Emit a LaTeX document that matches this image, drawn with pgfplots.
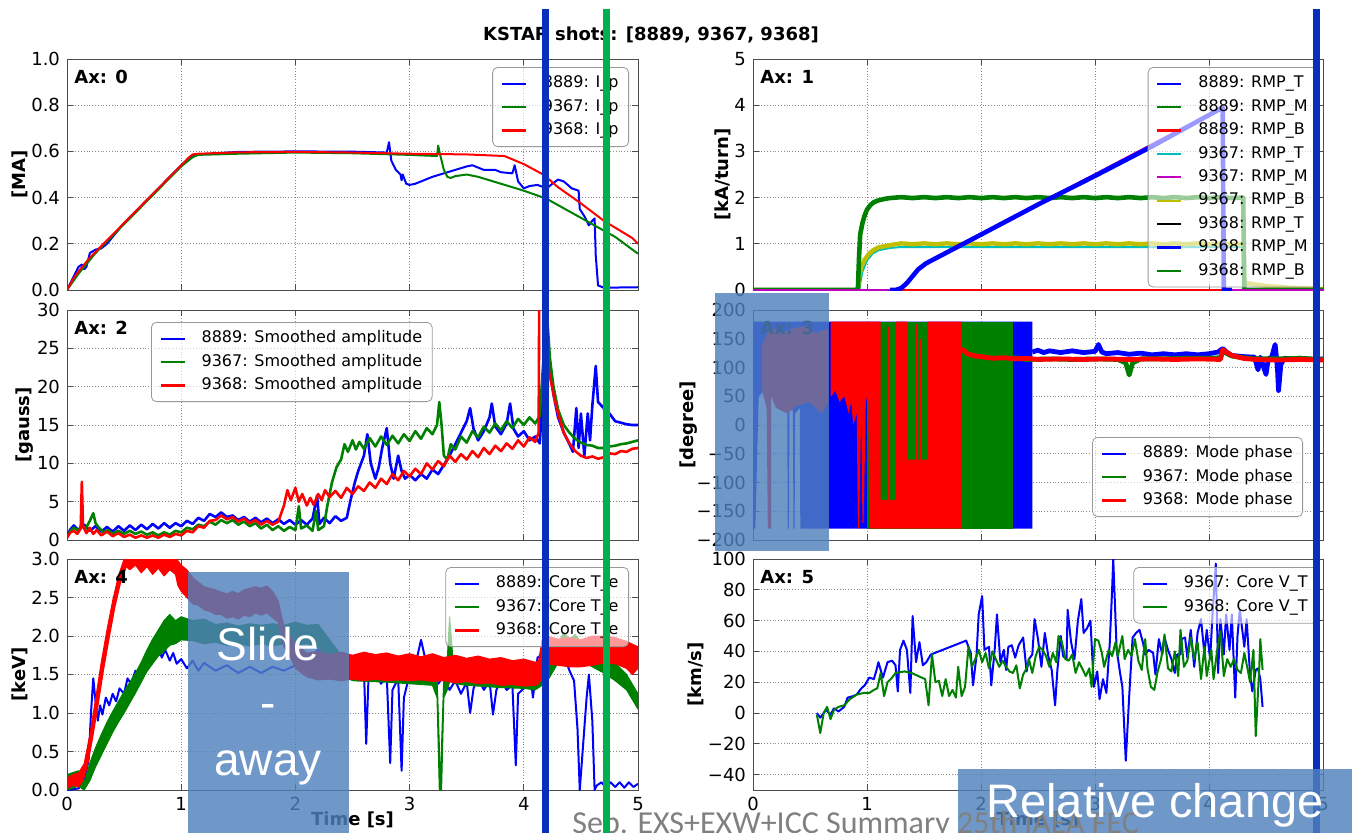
\documentclass[border=0pt]{standalone}
\usepackage{pgfplots}
\pgfplotsset{compat=1.18}
\usepackage{fontspec}
\setmainfont{DejaVu Sans}
\newfontfamily\footfont{Carlito}
\newfontfamily\boxfont{Liberation Sans}

\definecolor{mplblue}{rgb}{0,0,1}
\definecolor{mplgreen}{rgb}{0,0.5,0}
\definecolor{mplred}{rgb}{1,0,0}
\definecolor{mplcyan}{rgb}{0,0.75,0.75}
\definecolor{mplmagenta}{rgb}{0.75,0,0.75}
\definecolor{mplyellow}{rgb}{0.75,0.75,0}
\definecolor{markblue}{RGB}{8,48,190}
\definecolor{markgreen}{RGB}{0,176,80}
\definecolor{panelblue}{RGB}{79,129,189}
\definecolor{footgray}{RGB}{128,128,128}

\pgfplotsset{
  panel/.style={
    scale only axis, xmin=0, xmax=5, xtick={0,1,2,3,4,5},
    tick align=inside, tick pos=both, major tick length=3pt,
    axis line style={black!70}, tick style={black!70, line width=0.5pt},
    grid=major, major grid style={densely dotted, black!45, line width=0.5pt},
    tick label style={font=\fontsize{9}{10}\selectfont},
    /pgf/number format/assume math mode=true,
    xlabel style={font=\bfseries\fontsize{9}{10}\selectfont, yshift=6.5pt},
    ylabel style={font=\bfseries\fontsize{9}{10}\selectfont},
    ylabel shift=-5pt,
    legend cell align=left,
    legend style={font=\fontsize{8}{9}\selectfont, draw=black!40, fill=white,
      fill opacity=0.6, draw opacity=1, text opacity=1, rounded corners=2.5pt,
      inner xsep=4pt, inner ysep=3pt, row sep=1.5pt,
      nodes={inner sep=1pt, text height=6.2pt, text depth=2pt},
      /tikz/every odd column/.append style={column sep=7pt}},
    legend image code/.code={\draw[#1, line width=1.1pt] (0pt,0pt) -- (12pt,0pt);},
    every axis plot/.append style={line width=1pt, line join=round},
  },
  leftcol/.style={panel, at={(33.5pt,#1)}, anchor=south west, width=285.5pt},
  rightcol/.style={panel, at={(376.5pt,#1)}, anchor=south west, width=285pt},
  hidex/.style={xticklabels={}},
  onedec/.style={yticklabel style={/pgf/number format/.cd, fixed, fixed zerofill, precision=1}},
}
\newcommand\axlabel[1]{\node[anchor=north west, inner sep=0pt, font=\bfseries\fontsize{9}{10}\selectfont]
  at ([xshift=3.5pt,yshift=-5.5pt]rel axis cs:0,1) {Ax: #1};}

\begin{document}
\begin{tikzpicture}[x=0.5pt,y=-0.5pt]
\useasboundingbox (0,0) rectangle (1371,832);
\clip (0,0) rectangle (1371,832);

\node[font=\bfseries\fontsize{9}{10}\selectfont, anchor=base] at (651,40) {KSTAR shots: [8889, 9367, 9368]};

% ---------------- Ax 0: plasma current
\begin{axis}[leftcol=-145pt, height=115.5pt, ymin=0, ymax=1, ytick={0,0.2,0.4,0.6,0.8,1.0},
  hidex, onedec, ylabel={{[MA]}},
  legend style={at={(1,1)}, anchor=north east, xshift=-4.5pt, yshift=-4pt}]
\addplot[mplblue] coordinates {(0,0)(0.05,0.05)(0.1,0.1)(0.13,0.11)(0.15,0.09)(0.17,0.1)(0.2,0.16)(0.25,0.175)(0.3,0.18)(0.35,0.2)(0.5,0.29)(0.8,0.44)(1.0,0.54)(1.1,0.585)(1.5,0.598)(2.0,0.6)(2.5,0.599)(2.8,0.595)(2.82,0.64)(2.84,0.56)(2.88,0.52)(2.92,0.5)(2.93,0.475)(2.94,0.5)(2.97,0.46)(3.0,0.455)(3.05,0.46)(3.2,0.49)(3.4,0.52)(3.5,0.535)(3.55,0.54)(3.6,0.53)(3.65,0.52)(3.75,0.52)(3.8,0.51)(3.9,0.505)(3.92,0.54)(3.95,0.47)(4.0,0.44)(4.05,0.45)(4.12,0.455)(4.2,0.44)(4.25,0.46)(4.3,0.478)(4.35,0.47)(4.42,0.44)(4.48,0.43)(4.49,0.35)(4.53,0.32)(4.57,0.28)(4.6,0.3)(4.62,0.31)(4.63,0.15)(4.65,0.02)(4.7,0.01)(5.0,0.012)};
\addplot[mplgreen] coordinates {(0,0)(0.1,0.07)(0.2,0.13)(0.25,0.16)(0.5,0.285)(0.8,0.435)(1.0,0.535)(1.1,0.575)(1.15,0.585)(1.5,0.59)(2.0,0.595)(2.5,0.592)(3.0,0.585)(3.24,0.58)(3.25,0.625)(3.27,0.58)(3.3,0.52)(3.33,0.49)(3.36,0.485)(3.4,0.493)(3.5,0.5)(3.6,0.49)(3.8,0.46)(4.0,0.43)(4.2,0.395)(4.4,0.34)(4.6,0.285)(4.8,0.23)(5.0,0.157)};
\addplot[mplred] coordinates {(0,0)(0.05,0.045)(0.1,0.08)(0.15,0.11)(0.2,0.14)(0.25,0.165)(0.5,0.29)(0.8,0.44)(1.0,0.54)(1.07,0.575)(1.1,0.587)(1.15,0.59)(1.5,0.596)(2.0,0.598)(2.5,0.595)(3.0,0.59)(3.5,0.587)(3.83,0.58)(4.0,0.545)(4.17,0.5)(4.3,0.445)(4.5,0.375)(4.7,0.3)(4.85,0.255)(4.95,0.225)(5.0,0.2)};
\legend{8889: I\_p, 9367: I\_p, 9368: I\_p}
\axlabel{0}
\end{axis}

% ---------------- Ax 1: RMP coil currents
\begin{axis}[rightcol=-145pt, height=115.5pt, ymin=0, ymax=5, ytick={0,1,2,3,4,5},
  hidex, ylabel={{[kA/turn]}},
  legend style={at={(1,1)}, anchor=north east, xshift=-2.5pt, yshift=-4pt}]
\addplot[black, forget plot] coordinates {(0,0)(5,0)};
\addplot[mplcyan, forget plot] coordinates {(0,0)(0.93,0)(0.96,0.4)(1.0,0.64)(1.05,0.79)(1.1,0.86)(1.2,0.91)(1.3,0.93)(4.3,0.93)(4.31,0.12)(5.0,0.02)};
\addplot[mplyellow, line width=2.2pt, forget plot] coordinates {(0,0)(0.92,0)(0.93,0.3)(0.95,0.5)(0.98,0.66)(1.02,0.79)(1.06,0.87)(1.1,0.92)(1.2,0.97)(1.3,1.01)(1.4,0.99)(1.5,1.01)(1.6,0.99)(1.7,1.01)(1.8,0.99)(1.9,1.01)(2.0,0.99)(2.1,1.01)(2.2,0.99)(2.3,1.01)(2.4,0.99)(2.5,1.01)(2.6,0.99)(2.7,1.01)(2.8,0.99)(2.9,1.01)(3.0,0.99)(3.1,1.01)(3.2,0.99)(3.3,1.01)(3.4,0.99)(3.5,1.01)(3.6,0.99)(3.7,1.01)(3.8,0.99)(3.9,1.01)(4.0,0.99)(4.1,1.01)(4.2,0.99)(4.3,1.0)(4.31,0.16)(4.4,0.12)(4.5,0.09)(4.6,0.07)(4.7,0.05)(4.8,0.04)(4.9,0.03)(5.0,0.02)};
\addplot[mplgreen, line width=2.3pt, forget plot] coordinates {(0,0)(0.92,0)(0.93,0.7)(0.94,1.2)(0.96,1.45)(0.98,1.62)(1.0,1.74)(1.03,1.84)(1.06,1.9)(1.1,1.94)(1.15,1.97)(1.2,1.99)(1.3,2.01)(1.4,1.99)(1.5,2.01)(1.6,1.99)(1.7,2.01)(1.8,1.99)(1.9,2.01)(2.0,1.99)(2.1,2.01)(2.2,1.99)(2.3,2.01)(2.4,1.99)(2.5,2.01)(2.6,1.99)(2.7,2.01)(2.8,1.99)(2.9,2.01)(3.0,1.99)(3.1,2.01)(3.2,1.99)(3.3,2.01)(3.4,1.99)(3.5,2.01)(3.6,1.99)(3.7,2.01)(3.8,1.99)(3.9,2.01)(4.0,1.99)(4.1,2.01)(4.2,1.99)(4.3,2.0)(4.31,0)(5,0)};
\addplot[mplred, forget plot] coordinates {(0,0)(5,0)};
\addplot[mplmagenta, forget plot] coordinates {(0,0)(1.25,0)(1.3,0.05)(1.35,0.16)(1.4,0.31)(1.45,0.46)(1.52,0.59)(4.12,3.96)(4.13,0)(5,0)};
\addplot[mplblue, line width=2.3pt, forget plot] coordinates {(1.2,0)(1.25,0)(1.3,0.04)(1.35,0.15)(1.4,0.3)(1.45,0.45)(1.52,0.58)(2.0,1.2)(2.5,1.85)(3.0,2.47)(3.5,3.11)(4.12,3.95)(4.13,0)(4.2,0)};
\addlegendimage{mplblue}\addlegendentry{8889: RMP\_T}
\addlegendimage{mplgreen}\addlegendentry{8889: RMP\_M}
\addlegendimage{mplred}\addlegendentry{8889: RMP\_B}
\addlegendimage{mplcyan}\addlegendentry{9367: RMP\_T}
\addlegendimage{mplmagenta}\addlegendentry{9367: RMP\_M}
\addlegendimage{mplyellow}\addlegendentry{9367: RMP\_B}
\addlegendimage{black}\addlegendentry{9368: RMP\_T}
\addlegendimage{mplblue}\addlegendentry{9368: RMP\_M}
\addlegendimage{mplgreen}\addlegendentry{9368: RMP\_B}
\axlabel{1}
\end{axis}

% ---------------- Ax 2: mode amplitude
\begin{axis}[leftcol=-270pt, height=115pt, ymin=0, ymax=30, ytick={0,5,10,15,20,25,30},
  hidex, ylabel={{[gauss]}},
  legend style={at={(0,1)}, anchor=north west, xshift=42pt, yshift=-6pt}]
\addplot[mplblue, line width=1.3pt] coordinates {(0,0.5)(0.03,1.4)(0.06,1.9)(0.1,1.3)(0.15,2.0)(0.2,1.2)(0.25,1.8)(0.3,1.1)(0.35,1.7)(0.4,1.1)(0.45,1.8)(0.5,1.2)(0.55,1.9)(0.6,1.3)(0.65,2.0)(0.7,1.4)(0.75,2.1)(0.8,1.5)(0.85,2.2)(0.9,1.6)(0.95,2.2)(1.0,1.8)(1.05,2.5)(1.1,2.1)(1.15,2.9)(1.2,2.5)(1.25,3.4)(1.3,3.0)(1.35,3.6)(1.4,3.0)(1.45,3.2)(1.5,2.6)(1.55,3.0)(1.6,2.4)(1.65,2.9)(1.7,2.3)(1.75,2.8)(1.8,2.2)(1.85,2.7)(1.9,2.1)(1.95,2.6)(2.0,2.0)(2.05,2.6)(2.1,2.0)(2.15,2.8)(2.19,5.8)(2.21,2.1)(2.25,2.9)(2.3,2.2)(2.35,3.1)(2.4,2.5)(2.45,2.9)(2.48,5.0)(2.52,7.5)(2.55,9.0)(2.6,11.0)(2.63,13.8)(2.66,10.0)(2.7,8.0)(2.73,9.5)(2.76,12.0)(2.8,14.6)(2.83,10.0)(2.86,8.0)(2.88,9.5)(2.9,11.0)(2.93,9.0)(2.96,8.0)(3.0,8.5)(3.05,7.8)(3.1,8.6)(3.15,8.0)(3.2,9.2)(3.25,8.6)(3.3,9.8)(3.35,11.0)(3.4,12.5)(3.45,14.0)(3.5,15.5)(3.53,17.2)(3.56,14.5)(3.6,13.0)(3.65,14.2)(3.7,16.0)(3.72,17.8)(3.75,14.8)(3.8,13.8)(3.85,15.2)(3.88,17.8)(3.91,14.5)(3.95,13.5)(4.0,14.2)(4.05,13.0)(4.1,13.5)(4.14,12.6)(4.2,28)(4.23,23)(4.26,19)(4.3,16)(4.35,14)(4.4,12.5)(4.43,11.5)(4.46,17.2)(4.48,12)(4.5,16.5)(4.53,11)(4.56,16.5)(4.58,13)(4.6,17.5)(4.63,22.7)(4.65,18)(4.7,17.2)(4.72,16)(4.75,16.5)(4.8,15.5)(4.85,15.3)(4.9,15.1)(4.95,15.0)(5.0,15.0)};
\addplot[mplgreen, line width=1.3pt] coordinates {(0,0.4)(0.03,1.2)(0.06,1.6)(0.1,1.2)(0.13,2.0)(0.16,1.4)(0.2,2.5)(0.23,3.5)(0.25,2.2)(0.28,1.6)(0.32,1.0)(0.36,1.3)(0.4,0.8)(0.45,1.2)(0.5,0.8)(0.55,1.2)(0.6,0.8)(0.65,1.1)(0.7,0.7)(0.75,1.0)(0.8,0.6)(0.85,1.0)(0.9,0.7)(0.95,1.2)(1.0,1.0)(1.05,1.6)(1.1,1.4)(1.15,2.0)(1.2,1.8)(1.25,2.4)(1.3,2.0)(1.35,2.6)(1.4,2.2)(1.45,2.6)(1.5,2.0)(1.55,2.4)(1.6,1.8)(1.65,2.2)(1.7,1.5)(1.75,2.0)(1.8,1.3)(1.85,1.8)(1.9,1.2)(1.95,1.7)(2.0,1.3)(2.03,4.4)(2.05,1.5)(2.1,1.9)(2.15,1.2)(2.18,3.8)(2.2,1.3)(2.25,1.8)(2.28,4.5)(2.32,7.5)(2.36,9.5)(2.4,10.5)(2.43,12.5)(2.46,11.5)(2.5,13.0)(2.53,11.8)(2.56,12.8)(2.6,11.9)(2.65,13.3)(2.7,12.2)(2.75,13.5)(2.8,12.4)(2.85,13.6)(2.9,12.6)(2.95,13.8)(3.0,12.9)(3.05,14.2)(3.1,13.2)(3.15,14.6)(3.2,13.8)(3.24,15.0)(3.26,18.0)(3.28,15.0)(3.3,11.0)(3.33,10.5)(3.36,12.5)(3.4,11.8)(3.45,13.5)(3.5,12.7)(3.55,14.2)(3.6,13.4)(3.65,14.8)(3.7,14.0)(3.75,15.2)(3.8,14.3)(3.85,15.5)(3.9,14.6)(3.95,15.8)(4.0,15.0)(4.05,16.0)(4.1,15.2)(4.14,16.2)(4.2,30)(4.23,23.5)(4.26,20)(4.3,17)(4.35,15)(4.4,14)(4.45,13.2)(4.5,12.7)(4.55,12.4)(4.6,12.3)(4.65,12.0)(4.7,12.0)(4.75,12.2)(4.8,12.3)(4.85,12.5)(4.9,12.6)(4.95,12.8)(5.0,13.0)};
\addplot[mplred, line width=1.3pt] coordinates {(0,0.3)(0.03,1.0)(0.06,1.2)(0.09,0.8)(0.12,1.5)(0.13,7.6)(0.14,1.8)(0.17,0.9)(0.2,1.6)(0.23,0.8)(0.26,1.3)(0.3,0.6)(0.35,1.1)(0.4,0.5)(0.45,0.9)(0.5,0.4)(0.55,0.7)(0.6,0.3)(0.65,0.6)(0.7,0.3)(0.75,0.6)(0.8,0.3)(0.85,0.7)(0.9,0.4)(0.95,0.8)(1.0,0.6)(1.05,1.2)(1.1,1.0)(1.15,1.8)(1.2,1.6)(1.25,2.5)(1.3,2.6)(1.35,3.2)(1.4,2.7)(1.45,3.0)(1.5,2.4)(1.55,2.8)(1.6,2.2)(1.65,2.6)(1.7,2.0)(1.75,2.5)(1.8,2.0)(1.85,2.4)(1.9,4.5)(1.93,6.5)(1.96,5.2)(2.0,6.8)(2.03,5.0)(2.06,6.0)(2.1,4.5)(2.13,5.5)(2.16,4.6)(2.2,6.0)(2.23,5.2)(2.26,6.5)(2.3,5.6)(2.35,6.4)(2.4,5.5)(2.45,6.8)(2.5,6.0)(2.55,7.0)(2.6,6.4)(2.65,7.5)(2.7,6.8)(2.75,8.0)(2.8,7.3)(2.85,8.6)(2.9,7.8)(2.95,9.0)(3.0,8.3)(3.05,9.3)(3.1,8.6)(3.15,10.0)(3.2,9.2)(3.25,10.3)(3.3,9.6)(3.35,11.0)(3.4,10.2)(3.45,11.2)(3.5,10.5)(3.55,11.6)(3.6,10.8)(3.65,12.0)(3.7,11.2)(3.75,12.3)(3.8,11.6)(3.85,12.6)(3.9,11.9)(3.95,13.0)(4.0,12.2)(4.05,13.4)(4.1,12.8)(4.13,14.0)(4.135,32)(4.2,32)(4.22,22)(4.26,19)(4.3,16.5)(4.35,14)(4.4,12.6)(4.45,11.6)(4.5,11.0)(4.55,10.7)(4.6,10.9)(4.65,10.6)(4.7,10.8)(4.75,11.3)(4.8,11.2)(4.85,11.6)(4.9,11.5)(4.95,11.9)(5.0,12.0)};
\legend{8889: Smoothed amplitude, 9367: Smoothed amplitude, 9368: Smoothed amplitude}
\axlabel{2}
\end{axis}

% ---------------- Ax 3: mode phase
\begin{axis}[rightcol=-270pt, height=115pt, ymin=-200, ymax=200, ytick={-200,-150,-100,-50,0,50,100,150,200},
  yticklabels={−200,−150,−100,−50,0,50,100,150,200},
  hidex, ylabel={{[degree]}}, ylabel shift=-7.5pt,
  legend style={at={(1,0)}, anchor=south east, xshift=-10pt, yshift=11.5pt}]
\addplot[fill=mplblue, draw=none, forget plot] coordinates {(0,-180)(0,180)(2.45,180)(2.45,-180)(0.42,-180)(0.415,-180)(0.41,30)(0.37,20)(0.365,-180)(0.355,-180)(0.35,25)(0.32,30)(0.315,-180)(0.305,-180)(0.30,40)(0.2,60)(0.1,60)(0.05,50)(0.02,-180)};
\addplot[fill=mplgreen, draw=none, forget plot] coordinates {(1.0,-180)(1.0,180)(2.28,180)(2.28,-180)};
\addplot[fill=mplred, draw=none, forget plot] coordinates {(0.08,60)(0.08,140)(0.15,170)(0.25,160)(0.35,168)(0.45,172)(0.55,160)(0.66,168)(0.66,40)(0.6,20)(0.5,40)(0.4,35)(0.3,20)(0.2,30)(0.16,50)(0.16,-180)(0.13,-180)(0.12,30)};
\addplot[fill=mplred, draw=none, forget plot] coordinates {(0.68,180)(1.12,180)(1.12,-130)(1.25,-130)(1.25,180)(1.35,180)(1.35,-60)(1.53,-60)(1.53,180)(1.83,180)(1.83,-180)(1.02,-180)(1.01,60)(0.99,40)(0.97,-170)(0.96,-170)(0.95,30)(0.93,-180)(0.92,-180)(0.91,20)(0.88,0)(0.86,40)(0.84,20)(0.8,50)(0.76,40)(0.72,60)(0.69,50)(0.68,50)};
\addplot[mplred, line width=0.8pt, forget plot] coordinates {(1.19,-130)(1.19,170)};
\addplot[mplred, line width=0.8pt, forget plot] coordinates {(1.44,-60)(1.44,175)};
\addplot[mplred, line width=0.8pt, forget plot] coordinates {(1.47,-60)(1.47,150)};
\addplot[mplblue, line width=2.4pt] coordinates {(2.45,127)(2.5,130)(2.55,126)(2.6,129)(2.7,126)(2.8,129)(2.9,126)(3.0,128)(3.03,140)(3.06,127)(3.1,124)(3.2,126)(3.3,123)(3.4,125)(3.5,122)(3.6,124)(3.7,122)(3.8,124)(3.9,122)(4.0,124)(4.08,127)(4.12,133)(4.16,126)(4.2,121)(4.3,119)(4.4,118)(4.43,96)(4.45,118)(4.5,88)(4.52,115)(4.55,118)(4.58,140)(4.6,100)(4.61,60)(4.63,105)(4.66,116)(4.7,115)(4.8,116)(4.9,114)(5.0,115)};
\addplot[mplgreen, line width=2.4pt] coordinates {(2.28,117)(2.4,114)(2.6,115)(2.8,114)(3.0,115)(3.2,114)(3.27,108)(3.3,87)(3.33,108)(3.4,115)(3.6,115)(3.8,116)(4.0,116)(4.1,117)(4.12,128)(4.2,120)(4.3,117)(4.4,115)(4.6,115)(4.8,116)(5.0,114)};
\addplot[mplred, line width=2.4pt] coordinates {(1.83,133)(1.88,124)(1.95,120)(2.0,119)(2.1,116)(2.2,117)(2.3,115)(2.4,116)(2.5,114)(2.7,115)(2.9,114)(3.1,115)(3.3,114)(3.5,115)(3.7,114)(3.9,115)(4.1,114)(4.12,131)(4.15,127)(4.2,121)(4.3,116)(4.4,114)(4.6,113)(4.8,114)(5.0,113)};
\legend{8889: Mode phase, 9367: Mode phase, 9368: Mode phase}
\axlabel{3}
\end{axis}

% ---------------- Ax 4: core electron temperature
\begin{axis}[leftcol=-395pt, height=115.5pt, ymin=0, ymax=3, ytick={0,0.5,1.0,1.5,2.0,2.5,3.0},
  onedec, xlabel={Time [s]}, ylabel={{[keV]}},
  legend style={at={(1,1)}, anchor=north east, xshift=-4.5pt, yshift=-4pt}]
\addplot[mplblue, forget plot] coordinates {(0,0.0)(0.1,0.02)(0.15,0.1)(0.19,0.4)(0.21,1.0)(0.23,1.45)(0.25,1.15)(0.27,0.9)(0.29,1.1)(0.31,0.98)(0.34,1.2)(0.37,1.1)(0.4,1.25)(0.43,1.15)(0.46,1.32)(0.5,1.25)(0.53,1.45)(0.56,1.38)(0.6,1.55)(0.63,1.5)(0.66,1.65)(0.7,1.6)(0.73,1.78)(0.76,1.7)(0.8,1.85)(0.83,1.72)(0.86,1.82)(0.9,1.68)(0.93,1.78)(0.96,1.64)(1.0,1.7)(1.05,1.58)(1.1,1.68)(1.15,1.55)(1.2,1.65)(1.3,1.55)(1.4,1.62)(1.5,1.52)(1.6,1.6)(1.7,1.52)(1.8,1.6)(1.9,1.55)(2.0,1.62)(2.1,1.7)(2.2,1.82)(2.3,1.7)(2.4,1.78)(2.5,1.62)(2.55,1.42)(2.6,1.58)(2.62,0.6)(2.64,1.45)(2.7,1.52)(2.75,1.38)(2.8,1.48)(2.83,0.35)(2.85,1.3)(2.9,1.45)(2.93,0.25)(2.95,1.2)(3.0,1.5)(3.05,1.62)(3.1,1.95)(3.15,1.62)(3.2,1.5)(3.25,1.38)(3.3,1.48)(3.35,1.3)(3.4,1.42)(3.45,1.25)(3.5,1.4)(3.53,1.0)(3.56,1.32)(3.6,1.46)(3.65,1.3)(3.7,1.42)(3.73,0.98)(3.76,1.3)(3.8,1.42)(3.85,1.3)(3.9,1.36)(3.93,0.32)(3.95,1.25)(4.0,1.32)(4.05,1.62)(4.08,1.2)(4.12,1.72)(4.2,1.8)(4.25,1.88)(4.3,1.7)(4.35,1.76)(4.4,1.55)(4.44,1.42)(4.47,0.8)(4.49,0.0)(4.52,0.6)(4.55,1.2)(4.57,1.5)(4.6,0.9)(4.62,0.0)(4.64,0.06)(4.68,0.1)(4.72,0.03)(4.76,0.1)(4.8,0.04)(4.84,0.1)(4.88,0.03)(4.92,0.1)(4.96,0.04)(5.0,0.08)};
% 9367: envelope of the noisy trace
\addplot[fill=mplgreen, draw=mplgreen, line width=0.5pt, forget plot] coordinates {(0,0.2)(0.1,0.25)(0.15,0.1)(0.2,0.35)(0.25,0.55)(0.3,0.72)(0.35,0.88)(0.4,1.02)(0.45,1.15)(0.5,1.28)(0.55,1.4)(0.6,1.52)(0.65,1.66)(0.7,1.82)(0.75,1.96)(0.8,2.08)(0.85,2.2)(0.9,2.28)(0.95,2.2)(1.0,2.25)(1.1,2.2)(1.2,2.22)(1.3,2.15)(1.4,2.17)(1.5,2.13)(1.6,2.16)(1.7,2.14)(1.8,2.16)(1.9,2.14)(2.0,2.18)(2.1,2.14)(2.2,2.15)(2.3,1.95)(2.4,1.75)(2.5,1.68)(2.8,1.62)(3.0,1.6)(3.2,1.58)(3.24,1.5)(3.26,0.6)(3.27,0.02)(3.28,0.6)(3.3,1.5)(3.33,1.7)(3.35,2.25)(3.38,1.7)(3.5,1.6)(3.8,1.55)(4.0,1.52)(4.1,1.5)(4.2,1.65)(4.3,1.9)(4.35,2.05)(4.4,1.95)(4.45,2.02)(4.5,1.92)(4.6,1.85)(4.7,1.75)(4.8,1.65)(4.9,1.5)(5.0,1.25)(5.0,1.05)(4.9,1.3)(4.8,1.42)(4.7,1.52)(4.6,1.6)(4.5,1.68)(4.4,1.75)(4.3,1.65)(4.2,1.4)(4.1,1.3)(4.0,1.32)(3.8,1.33)(3.5,1.36)(3.4,1.38)(3.36,1.45)(3.33,1.3)(3.3,1.2)(3.28,0.0)(3.26,0.0)(3.24,1.2)(3.2,1.36)(3.0,1.38)(2.8,1.4)(2.5,1.42)(2.4,1.5)(2.3,1.7)(2.2,1.85)(2.1,1.9)(2.0,1.88)(1.9,1.9)(1.8,1.87)(1.7,1.9)(1.6,1.87)(1.5,1.9)(1.4,1.88)(1.3,1.92)(1.2,1.9)(1.1,1.94)(1.0,1.95)(0.95,1.9)(0.9,1.88)(0.85,1.8)(0.8,1.74)(0.75,1.64)(0.7,1.54)(0.65,1.4)(0.6,1.26)(0.55,1.13)(0.5,1.0)(0.45,0.88)(0.4,0.75)(0.35,0.6)(0.3,0.45)(0.25,0.3)(0.2,0.12)(0.15,0.0)(0.1,0.05)(0,0.0)};
% 9368: envelope of the noisy trace
\addplot[fill=mplred, draw=mplred, line width=0.5pt, forget plot] coordinates {(0,0.15)(0.05,0.2)(0.1,0.22)(0.15,0.34)(0.2,0.72)(0.25,1.18)(0.3,1.66)(0.35,2.08)(0.4,2.46)(0.45,2.78)(0.5,3.0)(0.55,3.2)(0.95,3.2)(0.97,2.98)(1.0,2.92)(1.05,2.86)(1.1,2.76)(1.15,2.7)(1.2,2.64)(1.25,2.62)(1.3,2.6)(1.35,2.57)(1.4,2.55)(1.45,2.58)(1.5,2.55)(1.55,2.6)(1.6,2.62)(1.65,2.64)(1.7,2.62)(1.75,2.65)(1.8,2.58)(1.85,2.45)(1.9,2.12)(1.95,2.02)(2.0,1.88)(2.05,1.84)(2.1,1.78)(2.2,1.8)(2.3,1.76)(2.4,1.79)(2.5,1.75)(2.6,1.79)(2.7,1.76)(2.8,1.78)(2.9,1.74)(3.0,1.77)(3.1,1.73)(3.2,1.77)(3.3,1.72)(3.4,1.75)(3.5,1.71)(3.6,1.74)(3.7,1.7)(3.8,1.72)(3.9,1.68)(4.0,1.7)(4.1,1.66)(4.13,1.68)(4.16,1.95)(4.2,2.0)(4.3,1.96)(4.4,1.98)(4.5,1.95)(4.6,2.0)(4.7,2.0)(4.8,1.98)(4.9,1.93)(5.0,1.86)(5.0,1.58)(4.95,1.5)(4.9,1.58)(4.8,1.64)(4.7,1.65)(4.6,1.62)(4.5,1.6)(4.4,1.6)(4.3,1.62)(4.2,1.64)(4.17,1.5)(4.13,1.38)(4.1,1.36)(4.0,1.35)(3.9,1.37)(3.8,1.36)(3.7,1.39)(3.6,1.38)(3.5,1.41)(3.4,1.39)(3.3,1.42)(3.2,1.41)(3.1,1.43)(3.0,1.42)(2.9,1.43)(2.8,1.42)(2.7,1.44)(2.6,1.42)(2.5,1.44)(2.4,1.42)(2.3,1.44)(2.2,1.43)(2.1,1.47)(2.0,1.58)(1.95,1.75)(1.9,1.86)(1.85,2.18)(1.8,2.24)(1.75,2.3)(1.7,2.27)(1.65,2.3)(1.6,2.25)(1.55,2.27)(1.5,2.22)(1.45,2.25)(1.4,2.23)(1.35,2.28)(1.3,2.28)(1.25,2.32)(1.2,2.34)(1.15,2.4)(1.1,2.42)(1.05,2.5)(1.0,2.58)(0.97,2.66)(0.95,2.8)(0.9,2.86)(0.85,2.78)(0.8,2.88)(0.75,2.8)(0.7,2.9)(0.65,2.82)(0.6,2.92)(0.55,2.86)(0.52,2.9)(0.47,2.7)(0.42,2.38)(0.37,1.98)(0.32,1.56)(0.27,1.08)(0.22,0.64)(0.18,0.32)(0.14,0.12)(0.1,0.04)(0.05,0.06)(0,0.02)};
\addlegendimage{mplblue}\addlegendentry{8889: Core T\_e}
\addlegendimage{mplgreen}\addlegendentry{9367: Core T\_e}
\addlegendimage{mplred}\addlegendentry{9368: Core T\_e}
\axlabel{4}
\end{axis}

% ---------------- Ax 5: core toroidal rotation
\begin{axis}[rightcol=-395pt, height=115.5pt, ymin=-50, ymax=100, ytick={-40,-20,0,20,40,60,80,100},
  yticklabels={−40,−20,0,20,40,60,80,100},
  xlabel={Time [s]}, ylabel={{[km/s]}},
  legend style={at={(1,1)}, anchor=north east, xshift=-2.5pt, yshift=-4pt}]
\addplot[mplblue] coordinates {(0.56,0)(0.59,-3)(0.64,2)(0.68,-1)(0.71,3)(0.75,1)(0.80,4)(0.83,10)(0.88,11)(0.91,12)(0.95,16)(0.98,18)(1.02,23)(1.06,22)(1.08,27)(1.10,33)(1.14,23)(1.18,33)(1.22,34)(1.25,31)(1.27,14)(1.29,41)(1.32,47)(1.35,41)(1.38,13)(1.40,63)(1.43,33)(1.46,46)(1.49,31)(1.52,33)(1.56,38)(1.87,47)(1.91,39)(1.93,18)(1.96,37)(1.98,64)(2.01,76)(2.03,41)(2.07,43)(2.09,18)(2.12,41)(2.14,64)(2.17,33)(2.20,41)(2.22,28)(2.24,43)(2.27,44)(2.30,36)(2.33,44)(2.37,49)(2.40,27)(2.42,35)(2.45,38)(2.47,61)(2.50,48)(2.53,30)(2.56,52)(2.59,37)(2.62,28)(2.65,5)(2.67,28)(2.70,50)(2.72,37)(2.75,35)(2.76,67)(2.79,46)(2.82,35)(2.85,60)(2.88,74)(2.90,52)(2.93,55)(2.96,60)(2.99,17)(3.02,27)(3.04,9)(3.07,22)(3.10,13)(3.13,46)(3.15,80)(3.16,100)(3.19,41)(3.22,26)(3.24,17)(3.27,-31)(3.30,11)(3.33,49)(3.36,52)(3.39,54)(3.42,46)(3.44,38)(3.47,41)(3.51,39)(3.53,25)(3.56,48)(3.59,38)(3.61,49)(3.64,41)(3.67,35)(3.70,26)(3.72,38)(3.75,38)(3.76,48)(3.79,49)(3.81,36)(3.84,54)(3.87,30)(3.90,52)(3.93,61)(3.96,38)(3.98,54)(4.01,35)(4.03,63)(4.06,97)(4.08,26)(4.10,61)(4.13,38)(4.15,64)(4.18,41)(4.20,64)(4.23,10)(4.25,50)(4.27,67)(4.31,43)(4.33,61)(4.36,25)(4.38,14)(4.41,28)(4.43,29)(4.45,22)(4.47,4)};
\addplot[mplgreen] coordinates {(0.56,-1)(0.59,-13)(0.62,0)(0.65,4)(0.68,-4)(0.71,2)(0.75,4)(0.80,5)(0.85,9)(0.91,12)(0.97,13)(1.02,13)(1.06,15)(1.09,16)(1.12,26)(1.15,11)(1.18,20)(1.22,23)(1.25,26)(1.33,27)(1.39,26)(1.45,24)(1.51,22)(1.54,5)(1.57,38)(1.60,20)(1.63,21)(1.66,11)(1.69,22)(1.72,11)(1.75,15)(1.78,10)(1.80,30)(1.83,11)(1.86,17)(1.89,43)(1.92,30)(1.95,35)(1.98,41)(2.01,33)(2.04,39)(2.07,29)(2.10,40)(2.13,35)(2.16,30)(2.19,34)(2.22,30)(2.25,27)(2.28,26)(2.31,31)(2.34,16)(2.37,25)(2.40,29)(2.42,35)(2.45,26)(2.48,37)(2.51,43)(2.54,41)(2.57,37)(2.60,30)(2.63,39)(2.66,33)(2.68,50)(2.71,46)(2.74,35)(2.77,34)(2.80,38)(2.83,26)(2.86,33)(2.88,30)(2.92,24)(2.95,29)(2.97,17)(3.00,48)(3.03,47)(3.06,39)(3.08,30)(3.12,41)(3.15,37)(3.18,46)(3.20,37)(3.24,50)(3.26,35)(3.29,41)(3.32,37)(3.35,48)(3.38,34)(3.41,28)(3.44,48)(3.46,29)(3.49,17)(3.52,15)(3.55,27)(3.58,35)(3.61,51)(3.64,29)(3.67,27)(3.70,40)(3.73,24)(3.75,54)(3.78,30)(3.81,34)(3.84,49)(3.87,35)(3.90,46)(3.93,22)(3.96,43)(3.98,24)(4.02,41)(4.04,22)(4.07,40)(4.10,53)(4.13,24)(4.16,35)(4.19,30)(4.22,35)(4.25,28)(4.28,26)(4.31,39)(4.34,28)(4.36,20)(4.39,41)(4.41,-15)(4.44,28)(4.45,48)(4.47,28)};
\legend{9367: Core V\_T, 9368: Core V\_T}
\axlabel{5}
\end{axis}

% ---------------- slide overlays
\draw[markblue, line width=3.5pt] (1316,9) -- (1316,840);
\fill[panelblue, fill opacity=0.82] (187.5,572) rectangle (349,840);
\node[text=white, font=\boxfont\fontsize{23}{23}\selectfont, anchor=base, inner sep=0pt] at (268,660) {Slide};
\node[text=white, font=\boxfont\fontsize{23}{23}\selectfont, anchor=base, inner sep=0pt] at (268,718) {-};
\node[text=white, font=\boxfont\fontsize{23}{23}\selectfont, anchor=base, inner sep=0pt] at (268,775) {away};
\fill[panelblue, fill opacity=0.82] (715,293) rectangle (829,551);
\fill[panelblue, fill opacity=0.82] (957.5,769) rectangle (1352,840);
\node[text=footgray, font=\footfont\fontsize{16}{16}\selectfont, anchor=base west, inner sep=0pt] at (572,833) {Sep. EXS+EXW+ICC Summary 25th IAEA FEC};
\node[text=white, font=\boxfont\fontsize{23.5}{24}\selectfont, anchor=base, inner sep=0pt] at (1155,817) {Relative change};
\draw[markblue, line width=3.5pt] (545.5,9) -- (545.5,840);
\draw[markgreen, line width=3.5pt] (606.5,9) -- (606.5,840);
\end{tikzpicture}
\end{document}
